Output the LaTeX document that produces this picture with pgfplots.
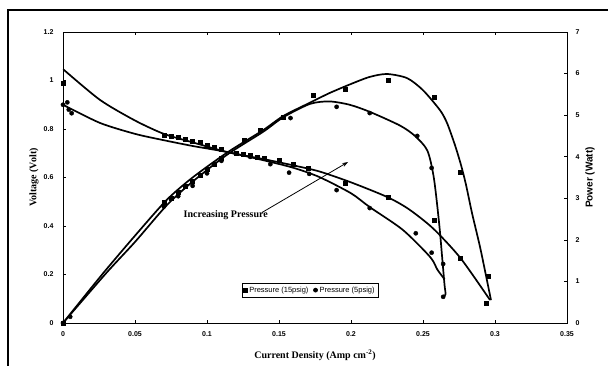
\documentclass[border=0pt]{standalone}
\usepackage{pgfplots}
\pgfplotsset{compat=1.18}
\usepackage{fontspec}
\setmainfont{Liberation Serif}
\setsansfont{Liberation Sans}
\usetikzlibrary{arrows.meta}

\pgfplotsset{
  common/.style={
    scale only axis, width=504pt, height=291pt,
    at={(0,0)}, anchor=south west,
    xmin=0, xmax=0.35,
    tick align=inside, major tick length=3pt,
    axis line style={black, line width=0.6pt},
    tick style={black, line width=0.6pt},
    ticklabel style={font=\sffamily\bfseries\fontsize{7}{8}\selectfont},
    /pgf/number format/assume math mode=true,
    scaled ticks=false,
  },
  curve/.style={black, line width=1.7pt, smooth, tension=0.45, no markers},
  sq/.style={only marks, mark=square*, mark size=2pt, black},
  ci/.style={only marks, mark=*, mark size=2.1pt, black},
}

\begin{document}
\begin{tikzpicture}[x=1pt,y=1pt]
\useasboundingbox (-63,-42) rectangle (545,323);
\draw[line width=2.4pt] (-55,-80) -- (-55,313) -- (640,313);

\begin{axis}[common,
  ymin=0, ymax=1.2,
  xtick={0,0.05,0.1,0.15,0.2,0.25,0.3,0.35},
  xticklabels={0,0.05,0.1,0.15,0.2,0.25,0.3,0.35},
  ytick={0,0.2,0.4,0.6,0.8,1,1.2},
  yticklabels={0,0.2,0.4,0.6,0.8,1,1.2},
  xtick pos=both, xticklabel pos=lower,
  ytick pos=left, yticklabel pos=left,
  xticklabel style={yshift=-5pt},
  yticklabel style={xshift=-6pt},
  xlabel={Current Density (Amp cm\textsuperscript{-2})},
  ylabel={Voltage (Volt)},
  every axis x label/.style={at={(axis description cs:0.5,-0.110)}, anchor=center, font=\bfseries\fontsize{10}{12}\selectfont},
  every axis y label/.style={at={(axis description cs:-0.0575,0.5)}, rotate=90, anchor=center, font=\bfseries\fontsize{10}{12}\selectfont},
  legend style={at={(axis description cs:0.490,0.113)}, anchor=center, draw=black, line width=0.5pt,
     font=\sffamily\fontsize{7.5}{8.5}\selectfont, inner sep=1.2pt, row sep=0pt,
     /tikz/every even column/.append style={column sep=3pt}},
  legend columns=2, legend cell align=left,
]
% Voltage, 15 psig (fit)
\addplot[curve, forget plot] coordinates {
 (0,1.047)(0.0257,0.92)(0.05,0.835)(0.07,0.78)(0.09,0.745)(0.114,0.705)(0.14,0.675)
 (0.16,0.65)(0.178,0.625)(0.2,0.58)(0.225,0.52)(0.24,0.47)(0.257,0.39)(0.276,0.268)(0.2965,0.095)};
% Voltage, 5 psig (fit)
\addplot[curve, forget plot] coordinates {
 (0,0.90)(0.0257,0.825)(0.05,0.78)(0.069,0.755)(0.09,0.73)(0.114,0.705)(0.14,0.67)
 (0.16,0.64)(0.178,0.602)(0.2,0.535)(0.213,0.478)(0.236,0.384)(0.255,0.272)(0.26,0.22)(0.265,0.18)};
% Voltage data
\addplot[sq] coordinates {
 (0,0.99)(0.07,0.775)(0.075,0.77)(0.08,0.765)(0.085,0.76)(0.09,0.75)(0.095,0.745)(0.1,0.735)
 (0.105,0.725)(0.11,0.715)(0.12,0.70)(0.125,0.695)(0.13,0.69)(0.135,0.685)(0.14,0.68)(0.15,0.67)
 (0.16,0.655)(0.17,0.64)(0.196,0.577)(0.226,0.52)(0.258,0.425)(0.276,0.268)(0.294,0.08)};
\addlegendentry{Pressure (15psig)}
\addplot[ci] coordinates {
 (0,0.9)(0.003,0.91)(0.004,0.88)(0.006,0.865)(0.12,0.70)(0.13,0.685)(0.144,0.655)(0.157,0.62)
 (0.171,0.615)(0.19,0.548)(0.213,0.474)(0.245,0.37)(0.256,0.29)};
\addlegendentry{Pressure (5psig)}

\node[font=\bfseries\fontsize{10}{12}\selectfont] at (axis cs:0.113,0.445) {Increasing Pressure};
\draw[-{Stealth[length=6pt,width=4pt]}, line width=0.8pt] (axis cs:0.138,0.455) -- (axis cs:0.198,0.664);
\end{axis}

\begin{axis}[common,
  ymin=0, ymax=7,
  hide x axis,
  ytick={0,1,2,3,4,5,6,7},
  ytick pos=right, yticklabel pos=right,
  yticklabel style={xshift=5pt},
  ylabel={Power (Watt)},
  every axis y label/.style={at={(axis description cs:1.0456,0.5)}, rotate=90, anchor=center, font=\sffamily\bfseries\fontsize{10}{12}\selectfont},
]
% Power, 15 psig (fit)
\addplot[curve] coordinates {
 (0,0)(0.027,1.16)(0.05,2.1)(0.072,2.96)(0.09,3.5)(0.114,4.1)(0.139,4.64)(0.153,4.98)
 (0.1715,5.3)(0.185,5.53)(0.2,5.75)(0.213,5.92)(0.225,5.99)(0.239,5.89)(0.25,5.6)(0.2618,5.12)
 (0.2667,4.81)(0.2722,4.28)(0.2764,3.8)(0.2799,3.32)(0.284,2.65)(0.2896,1.83)(0.2944,1.03)(0.2972,0.55)};
% Power, 5 psig (fit)
\addplot[curve] coordinates {
 (0,0)(0.03,1.2)(0.05,1.95)(0.072,2.83)(0.09,3.4)(0.114,4.05)(0.139,4.6)(0.153,4.95)
 (0.1715,5.27)(0.185,5.33)(0.199,5.25)(0.213,5.08)(0.234,4.75)(0.2444,4.5)(0.253,4.15)(0.2575,3.5)
 (0.2612,2.4)(0.2635,1.5)(0.265,0.9)(0.2657,0.7)(0.2645,0.63)};
% Power data
\addplot[sq] coordinates {
 (0,0)(0.07,2.9)(0.075,3.0)(0.08,3.15)(0.085,3.3)(0.09,3.42)(0.095,3.55)(0.1,3.7)(0.105,3.82)
 (0.11,3.97)(0.126,4.4)(0.137,4.64)(0.153,4.96)(0.174,5.48)(0.196,5.62)(0.226,5.85)(0.258,5.44)
 (0.276,3.63)(0.295,1.13)};
\addplot[ci] coordinates {
 (0,0)(0.005,0.15)(0.07,2.8)(0.08,3.05)(0.09,3.3)(0.1,3.6)(0.11,3.9)(0.158,4.93)(0.19,5.2)
 (0.213,5.05)(0.246,4.5)(0.256,3.73)(0.264,1.42)(0.264,0.63)};
\end{axis}
\end{tikzpicture}
\end{document}
